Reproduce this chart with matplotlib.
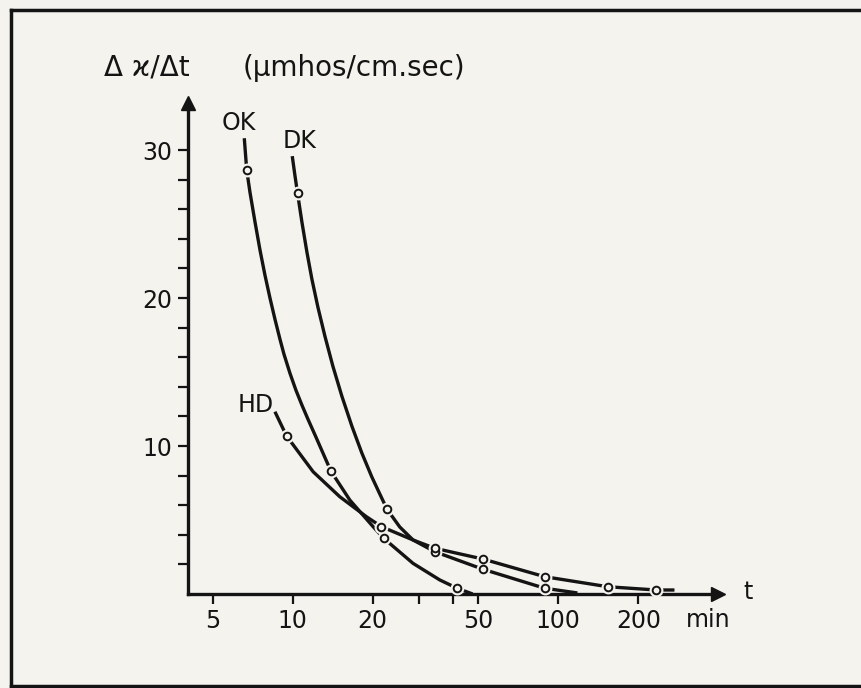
import matplotlib.pyplot as plt
from matplotlib.lines import Line2D

# traced curves (t in min, d kappa / dt)
ok_t = [6.58, 6.72, 6.91, 7.22, 7.54, 7.87, 8.22, 8.58, 8.96, 9.275, 9.77, 10.29, 10.84,
        11.42, 12.24, 13.93, 16.42, 20.09, 22.04, 28.4, 35.8, 41.6, 47.6]
ok_v = [30.8, 28.65, 27.16, 25.14, 23.24, 21.55, 20.0, 18.58, 17.23, 16.22, 14.93, 13.78, 12.77,
        11.82, 10.61, 8.31, 6.35, 4.55, 3.76, 2.07, 0.95, 0.39, 0.0]
dk_t = [9.97, 10.2, 10.44, 10.84, 11.32, 11.82, 12.45, 13.23, 14.17, 15.32, 16.71, 18.22,
        19.87, 21.29, 22.68, 25.31, 28.4, 34.28, 52.1, 88.8, 118]
dk_v = [29.59, 28.31, 27.07, 25.14, 23.11, 21.28, 19.39, 17.43, 15.41, 13.38, 11.35, 9.53,
        7.91, 6.76, 5.72, 4.53, 3.65, 2.86, 1.67, 0.39, 0.07]
hd_t = [8.58, 9.49, 11.95, 15.06, 18.97, 21.6, 28.4, 34.28, 52.1, 88.8, 153.7, 233.6, 273.6]
hd_v = [12.32, 10.68, 8.26, 6.57, 5.22, 4.55, 3.65, 3.09, 2.36, 1.17, 0.49, 0.27, 0.27]

# measured points (open circles)
ok_pt_t = [6.72, 13.93, 22.04, 41.6]
ok_pt_v = [28.65, 8.31, 3.76, 0.39]
dk_pt_t = [10.44, 22.68, 34.28, 52.1, 88.8]
dk_pt_v = [27.07, 5.72, 2.86, 1.67, 0.39]
hd_pt_t = [9.49, 21.6, 34.28, 52.1, 88.8, 153.7, 233.6]
hd_pt_v = [10.68, 4.55, 3.09, 2.36, 1.17, 0.49, 0.27]

x_ticks = [5, 10, 20, 30, 40, 50, 100, 200]
x_labels = ['5', '10', '20', '', '', '50', '100', '200']
y_ticks = list(range(2, 31, 2))
y_labels = [str(v) if v % 10 == 0 else '' for v in y_ticks]

bg = '#f4f3ee'
ink = '#141414'
font = ['DejaVu Sans']

W, H = 862, 688
fig = plt.figure(figsize=(W / 100, H / 100), dpi=100, facecolor=bg)
ax = fig.add_axes([188 / W, (H - 594) / H, (718 - 188) / W, (594 - 103) / H])
ax.set_facecolor(bg)
ax.set_xscale('log')
ax.set_xlim(4.04, 399)
ax.set_ylim(0, 33.18)

for t, v, pt, pv in [(ok_t, ok_v, ok_pt_t, ok_pt_v),
                     (dk_t, dk_v, dk_pt_t, dk_pt_v),
                     (hd_t, hd_v, hd_pt_t, hd_pt_v)]:
    ax.plot(t, v, color=ink, lw=2.4, solid_capstyle='butt', solid_joinstyle='round',
            clip_on=False, zorder=2)
    ax.plot(pt, pv, 'o', ms=10, color=bg, mew=0, clip_on=False, zorder=3)
    ax.plot(pt, pv, 'o', ms=5.5, mfc=bg, mec=ink, mew=1.4, clip_on=False, zorder=4)

for s in ['top', 'right']:
    ax.spines[s].set_visible(False)
for s in ['left', 'bottom']:
    ax.spines[s].set_linewidth(2.4)
    ax.spines[s].set_color(ink)

ax.xaxis.set_major_locator(plt.FixedLocator(x_ticks))
ax.xaxis.set_minor_locator(plt.NullLocator())
ax.set_xticklabels(x_labels)
ax.set_yticks(y_ticks)
ax.set_yticklabels(y_labels)
ax.tick_params(axis='both', length=7, width=1.6, color=ink, labelcolor=ink, labelsize=17, pad=4)
for lab in ax.get_xticklabels() + ax.get_yticklabels():
    lab.set_family(font)

# axis arrows
ax.plot(1, 0, '>', ms=10, color=ink, transform=ax.transAxes, clip_on=False)
ax.plot(0, 1, '^', ms=10, color=ink, transform=ax.transAxes, clip_on=False)

fig.text(748 / W, 1 - 592 / H, 't', fontsize=17, family=font, color=ink, ha='center', va='center')
fig.text(708 / W, 1 - 620 / H, 'min', fontsize=17, family=font, color=ink, ha='center', va='center')
fig.text(104 / W, 1 - 76 / H, 'Δ ϰ/Δt', fontsize=20, family=font,
         color=ink, ha='left', va='baseline')
fig.text(243 / W, 1 - 76 / H, '(μmhos/cm.sec)', fontsize=20, family=font,
         color=ink, ha='left', va='baseline')

ax.text(6.3, 31.8, 'OK', fontsize=17, family=font, color=ink, ha='center', va='center')
ax.text(10.65, 30.6, 'DK', fontsize=17, family=font, color=ink, ha='center', va='center')
ax.text(7.28, 12.8, 'HD', fontsize=17, family=font, color=ink, ha='center', va='center')

# scan frame
fig.add_artist(Line2D([11 / W, 1], [1 - 10 / H, 1 - 10 / H], color=ink, lw=2.5))
fig.add_artist(Line2D([11 / W, 11 / W], [1 - 10 / H, 1 - 686 / H], color=ink, lw=2.5))
fig.add_artist(Line2D([11 / W, 1], [1 - 686 / H, 1 - 686 / H], color=ink, lw=2.5))

fig.savefig('out.png', dpi=100, facecolor=bg)
